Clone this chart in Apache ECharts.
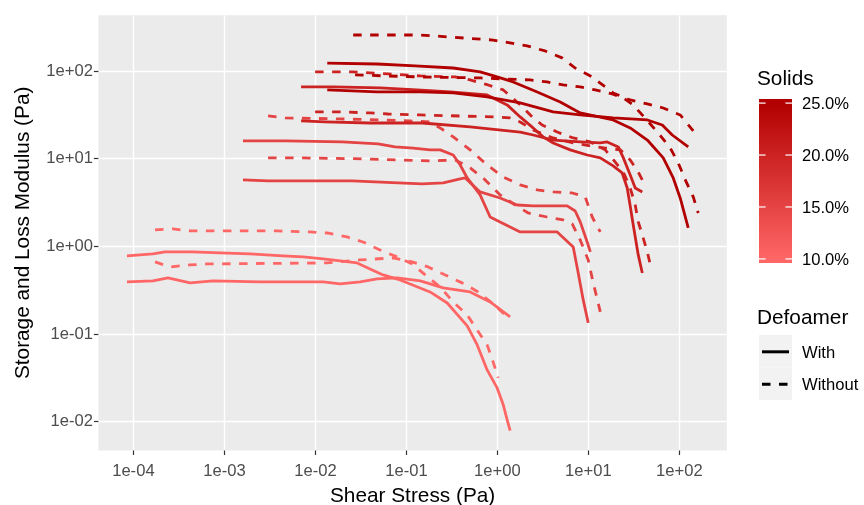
<!DOCTYPE html>
<html>
<head>
<meta charset="utf-8">
<script src="https://cdn.jsdelivr.net/npm/echarts@6/dist/echarts.min.js"></script>
<style>
  html, body { margin: 0; padding: 0; background: #ffffff; }
  #chart { width: 864px; height: 505px; }
</style>
</head>
<body>
<div id="chart"></div>
<script>
// Amplitude sweeps: storage (G') and loss (G'') modulus against shear stress,
// for four solids contents, with and without defoamer.

// ---- 10 % solids ----
const s10WithStorageX = [8.5e-5, 1.64e-4, 2.23e-4, 4.42e-4, 8.97e-4, 1.91e-3, 4.41e-3, 7.33e-3, 1.22e-2, 2.87e-2, 5.54e-2, 8.53e-2, 0.182, 0.281, 0.466, 0.600, 0.771, 0.993, 1.16, 1.28, 1.38];
const s10WithStorageY = [0.778, 0.819, 0.863, 0.863, 0.841, 0.819, 0.778, 0.757, 0.719, 0.647, 0.472, 0.414, 0.302, 0.226, 0.124, 0.0752, 0.039, 0.0243, 0.0156, 0.0105, 0.0079];
const s10WithLossX = [8.5e-5, 1.64e-4, 2.40e-4, 4.20e-4, 7.51e-4, 2.47e-3, 1.22e-2, 1.87e-2, 3.10e-2, 4.76e-2, 7.91e-2, 0.142, 0.254, 0.502, 0.832, 1.38];
const s10WithLossY = [0.393, 0.403, 0.436, 0.383, 0.403, 0.393, 0.393, 0.373, 0.393, 0.425, 0.436, 0.403, 0.336, 0.302, 0.232, 0.157];
const s10WithoutStorageX = [1.73e-4, 2.73e-4, 4.20e-4, 3.79e-3, 8.75e-3, 1.35e-2, 2.23e-2, 3.34e-2, 5.14e-2, 7.91e-2, 0.116, 0.161, 0.235, 0.327, 0.466, 0.600, 0.771, 0.897, 1.02];
const s10WithoutStorageY = [1.54, 1.58, 1.50, 1.50, 1.46, 1.42, 1.28, 1.12, 0.910, 0.757, 0.630, 0.472, 0.344, 0.232, 0.165, 0.111, 0.0752, 0.0481, 0.0316];
const s10WithoutLossX = [1.73e-4, 2.53e-4, 4.20e-4, 6.45e-4, 1.35e-2, 3.10e-2, 7.14e-2, 0.116, 0.173, 0.267, 0.410, 0.615, 0.875, 1.28];
const s10WithoutLossY = [0.664, 0.582, 0.614, 0.630, 0.647, 0.700, 0.738, 0.664, 0.582, 0.472, 0.383, 0.302, 0.226, 0.157];

// ---- 15 % solids ----
const s15WithStorageX = [1.60e-3, 4.65e-3, 1.97e-2, 4.89e-2, 7.52e-2, 0.119, 0.182, 0.235, 0.327, 0.390, 0.466, 0.646, 0.832, 1.07, 1.78, 4.54, 6.81, 7.73, 8.77, 9.95];
const s15WithStorageY = [15.9, 15.9, 15.5, 14.7, 13.6, 13.2, 12.6, 12.6, 11.0, 8.47, 6.02, 3.86, 2.16, 1.90, 1.46, 1.46, 0.984, 0.497, 0.245, 0.134];
const s15WithLossX = [1.60e-3, 3.02e-3, 2.53e-2, 8.11e-2, 0.149, 0.254, 0.390, 0.443, 0.646, 1.07, 1.65, 2.47, 5.84, 7.16, 8.13, 9.70, 10.5];
const s15WithLossY = [5.72, 5.57, 5.57, 5.28, 5.15, 5.28, 5.87, 6.02, 4.17, 3.56, 2.96, 2.89, 2.89, 2.53, 1.90, 1.12, 0.863];
const s15WithoutStorageX = [3.02e-3, 4.65e-3, 1.87e-2, 5.14e-2, 0.110, 0.182, 0.235, 0.327, 0.502, 0.771, 1.16, 1.78, 2.74, 4.10, 6.64, 9.23, 11.0, 13.5];
const s15WithoutStorageY = [30.7, 29.1, 28.4, 27.6, 26.9, 26.2, 22.4, 17.7, 12.6, 8.47, 6.18, 5.01, 4.40, 4.17, 4.06, 3.66, 2.16, 1.46];
const s15WithoutLossX = [3.02e-3, 6.79e-3, 2.41e-2, 8.53e-2, 0.182, 0.344, 0.502, 0.733, 1.07, 1.57, 2.18, 3.52, 5.28, 6.64, 8.13, 9.95, 11.3, 12.8, 13.5];
const s15WithoutLossY = [10.2, 10.2, 10.0, 9.67, 9.42, 9.67, 7.83, 5.72, 3.86, 2.96, 2.40, 2.16, 2.00, 1.80, 1.18, 0.700, 0.383, 0.226, 0.179];

// ---- 20 % solids ----
const s20WithStorageX = [6.96e-3, 1.57e-2, 5.14e-2, 0.131, 0.303, 0.771, 0.897, 1.28, 1.78, 2.47, 3.18, 4.10, 6.31, 9.70, 13.5, 18.7, 23.5, 26.7, 28.8, 31.1, 35.3, 39.1];
const s20WithStorageY = [65.7, 65.7, 64.0, 60.7, 57.6, 53.3, 49.2, 41.0, 29.9, 22.4, 17.7, 15.1, 12.6, 11.0, 10.2, 8.26, 6.87, 4.63, 2.89, 1.75, 0.798, 0.497];
const s20WithLossX = [6.96e-3, 1.28e-2, 3.99e-2, 0.149, 0.502, 1.78, 2.47, 4.10, 8.13, 13.5, 16.1, 21.3, 24.2, 28.8, 32.7, 39.1];
const s20WithLossY = [26.9, 26.2, 25.5, 25.5, 23.0, 20.1, 18.6, 16.3, 15.5, 15.1, 15.5, 13.6, 10.2, 6.52, 4.63, 4.17];
const s20WithoutStorageX = [9.93e-3, 2.53e-2, 6.29e-2, 0.142, 0.344, 0.502, 0.791, 1.16, 1.78, 2.41, 3.10, 4.54, 6.81, 10.5, 15.3, 24.2, 28.8, 32.7, 35.3, 39.1, 44.4, 47.9];
const s20WithoutStorageY = [97.5, 97.5, 92.4, 87.7, 85.4, 78.9, 69.2, 60.7, 41.0, 29.9, 24.2, 20.1, 17.2, 15.5, 12.6, 7.04, 4.63, 2.96, 1.90, 1.35, 0.863, 0.614];
const s20WithoutLossX = [9.93e-3, 1.87e-2, 3.99e-2, 6.29e-2, 0.142, 0.897, 1.38, 1.78, 2.47, 4.10, 6.81, 10.5, 15.3, 22.4, 28.8, 35.3, 41.7];
const s20WithoutLossY = [34.1, 34.1, 33.2, 32.3, 31.5, 29.9, 29.1, 26.2, 21.2, 17.2, 15.1, 14.0, 13.2, 12.6, 9.67, 7.04, 5.01];

// ---- 25 % solids ----
const s25WithStorageX = [1.35e-2, 4.76e-2, 0.125, 0.327, 0.646, 0.993, 1.49, 2.74, 4.90, 8.13, 18.7, 28.8, 44.4, 66.4, 85.5, 102, 125];
const s25WithStorageY = [123, 120, 114, 108, 97.5, 85.4, 74.9, 57.6, 44.3, 33.2, 27.6, 22.4, 16.3, 10.2, 6.02, 3.56, 1.62];
const s25WithLossX = [1.35e-2, 4.76e-2, 0.142, 0.327, 0.771, 1.78, 4.10, 8.13, 18.7, 44.4, 64.8, 83.4, 125];
const s25WithLossY = [60.7, 57.6, 57.6, 56.1, 50.5, 43.2, 34.1, 31.5, 29.1, 27.6, 24.2, 18.6, 13.6];
const s25WithoutStorageX = [2.60e-2, 0.142, 0.897, 2.12, 3.34, 5.14, 7.14, 11.0, 15.3, 18.7, 28.8, 44.4, 66.4, 102, 142];
const s25WithoutStorageY = [257, 257, 225, 193, 169, 141, 108, 85.4, 65.7, 56.1, 46.7, 42.1, 37.8, 31.5, 20.7];
const s25WithoutLossX = [2.73e-2, 0.142, 0.646, 2.29, 3.52, 5.28, 8.13, 11.9, 18.3, 24.2, 31.1, 58.6, 79.3, 97.1, 116, 142, 161];
const s25WithoutLossY = [90.0, 85.4, 83.2, 78.9, 74.9, 69.2, 65.7, 60.7, 54.7, 49.2, 41.0, 19.6, 13.2, 8.93, 5.72, 3.66, 2.40];

// Axis breaks and colour-bar breaks
const stressBreaks = [1e-4, 1e-3, 1e-2, 1e-1, 1, 10, 100];
const modulusBreaks = [1e-2, 1e-1, 1, 10, 100];
const solidsBreaks = [10, 15, 20, 25];
const solidsLimits = [10, 25];
const defoamerLevels = ['With', 'Without'];

const curves = [
  { solids: 10, defoamer: 'With',    x: s10WithStorageX,    y: s10WithStorageY },
  { solids: 10, defoamer: 'With',    x: s10WithLossX,       y: s10WithLossY },
  { solids: 10, defoamer: 'Without', x: s10WithoutStorageX, y: s10WithoutStorageY },
  { solids: 10, defoamer: 'Without', x: s10WithoutLossX,    y: s10WithoutLossY },
  { solids: 15, defoamer: 'With',    x: s15WithStorageX,    y: s15WithStorageY },
  { solids: 15, defoamer: 'With',    x: s15WithLossX,       y: s15WithLossY },
  { solids: 15, defoamer: 'Without', x: s15WithoutStorageX, y: s15WithoutStorageY },
  { solids: 15, defoamer: 'Without', x: s15WithoutLossX,    y: s15WithoutLossY },
  { solids: 20, defoamer: 'With',    x: s20WithStorageX,    y: s20WithStorageY },
  { solids: 20, defoamer: 'With',    x: s20WithLossX,       y: s20WithLossY },
  { solids: 20, defoamer: 'Without', x: s20WithoutStorageX, y: s20WithoutStorageY },
  { solids: 20, defoamer: 'Without', x: s20WithoutLossX,    y: s20WithoutLossY },
  { solids: 25, defoamer: 'With',    x: s25WithStorageX,    y: s25WithStorageY },
  { solids: 25, defoamer: 'With',    x: s25WithLossX,       y: s25WithLossY },
  { solids: 25, defoamer: 'Without', x: s25WithoutStorageX, y: s25WithoutStorageY },
  { solids: 25, defoamer: 'Without', x: s25WithoutLossX,    y: s25WithoutLossY }
];

// Colour scale for solids content (low -> high)
const lowColor = [255, 102, 102];
const highColor = [178, 0, 0];
function solidsColor(v) {
  const t = (v - solidsLimits[0]) / (solidsLimits[1] - solidsLimits[0]);
  const c = lowColor.map((l, i) => Math.round(l + (highColor[i] - l) * t));
  return 'rgb(' + c.join(',') + ')';
}

const DASH = [8.5, 8.5];
const LINE_W = 2.8;

// Log-axis extent with 5 % padding of the (log) data range on each side
function paddedLogExtent(arrays) {
  let lo = Infinity, hi = -Infinity;
  arrays.forEach(a => a.forEach(v => { const l = Math.log10(v); if (l < lo) lo = l; if (l > hi) hi = l; }));
  const pad = (hi - lo) * 0.05;
  return [Math.pow(10, lo - pad), Math.pow(10, hi + pad)];
}
const xExtent = paddedLogExtent(curves.map(c => c.x));
const yExtent = paddedLogExtent(curves.map(c => c.y));

function sciLabel(v) {
  const e = Math.round(Math.log10(v));
  const s = e < 0 ? '-' : '+';
  return '1e' + s + String(Math.abs(e)).padStart(2, '0');
}

const FONT = '"Liberation Sans", Arial, sans-serif';
const TICK_FS = 16.6;
const TITLE_FS = 20.8;
const GRID = { left: 98.4, right: 137.2, top: 15.2, bottom: 54.5 };

const series = curves.map(c => ({
  type: 'line',
  data: c.x.map((v, i) => [v, c.y[i]]),
  symbol: 'none',
  showSymbol: false,
  silent: true,
  animation: false,
  lineStyle: {
    color: solidsColor(c.solids),
    width: LINE_W,
    type: c.defoamer === 'With' ? 'solid' : DASH,
    cap: 'butt',
    join: 'round'
  },
  z: 2
}));

// Legend: colour bar for solids and line-type keys for defoamer
const barLeft = 759, barTop = 99, barW = 33, barH = 164;
const halfBin = barH / 20 / 2;
function barY(v) {
  const t = (v - solidsLimits[0]) / (solidsLimits[1] - solidsLimits[0]);
  return barTop + barH - halfBin - t * (barH - 2 * halfBin);
}
const legendGraphics = [
  { type: 'text', x: 757, y: 79, style: { text: 'Solids', font: TITLE_FS + 'px ' + FONT, fill: '#000', textVerticalAlign: 'middle' } },
  {
    type: 'rect', shape: { x: barLeft, y: barTop, width: barW, height: barH },
    style: {
      fill: new echarts.graphic.LinearGradient(0, 0, 0, 1, [
        { offset: halfBin / barH, color: solidsColor(solidsLimits[1]) },
        { offset: 1 - halfBin / barH, color: solidsColor(solidsLimits[0]) }
      ])
    }
  }
];
solidsBreaks.forEach(v => {
  const y = barY(v);
  legendGraphics.push(
    { type: 'line', shape: { x1: barLeft, y1: y, x2: barLeft + 6.6, y2: y }, style: { stroke: '#fff', lineWidth: 1.2 } },
    { type: 'line', shape: { x1: barLeft + barW - 6.6, y1: y, x2: barLeft + barW, y2: y }, style: { stroke: '#fff', lineWidth: 1.2 } },
    { type: 'text', x: 802, y: y + 1.5, style: { text: v.toFixed(1) + '%', font: TICK_FS + 'px ' + FONT, fill: '#000', textVerticalAlign: 'middle' } }
  );
});
legendGraphics.push(
  { type: 'text', x: 757, y: 318, style: { text: 'Defoamer', font: TITLE_FS + 'px ' + FONT, fill: '#000', textVerticalAlign: 'middle' } }
);
defoamerLevels.forEach((lvl, i) => {
  const top = 335 + i * 32.5;
  const cy = top + 16.8;
  legendGraphics.push(
    { type: 'rect', shape: { x: barLeft, y: top, width: barW, height: 32.5 }, style: { fill: '#F2F2F2' } },
    { type: 'line', shape: { x1: barLeft + 3, y1: cy, x2: barLeft + barW - 3, y2: cy },
      style: { stroke: '#000', lineWidth: 3, lineDash: lvl === 'With' ? null : DASH, lineCap: 'butt' } },
    { type: 'text', x: 802, y: cy + 1.5, style: { text: lvl, font: TICK_FS + 'px ' + FONT, fill: '#000', textVerticalAlign: 'middle' } }
  );
});

const chart = echarts.init(document.getElementById('chart'), null, { renderer: 'canvas' });
chart.setOption({
  animation: false,
  backgroundColor: '#ffffff',
  grid: Object.assign({
    show: true, backgroundColor: '#EBEBEB', borderWidth: 0,
    containLabel: false, outerBoundsMode: 'none'
  }, GRID),
  xAxis: {
    type: 'log',
    logBase: 10,
    min: xExtent[0],
    max: xExtent[1],
    name: 'Shear Stress (Pa)',
    nameLocation: 'middle',
    nameGap: 35,
    nameTextStyle: { color: '#000', fontSize: TITLE_FS, fontFamily: FONT },
    axisLine: { show: false },
    axisTick: { show: true, length: 4.5, lineStyle: { color: '#333333', width: 1.2 }, customValues: stressBreaks },
    axisLabel: { color: '#4D4D4D', fontSize: TICK_FS, fontFamily: FONT, margin: 12, customValues: stressBreaks, formatter: sciLabel },
    splitLine: { show: true, lineStyle: { color: '#ffffff', width: 1.4 } },
    minorSplitLine: { show: false }
  },
  yAxis: {
    type: 'log',
    logBase: 10,
    min: yExtent[0],
    max: yExtent[1],
    name: 'Storage and Loss Modulus (Pa)',
    nameLocation: 'middle',
    nameRotate: 90,
    nameGap: 65,
    nameTextStyle: { color: '#000', fontSize: TITLE_FS, fontFamily: FONT },
    axisLine: { show: false },
    axisTick: { show: true, length: 4.5, lineStyle: { color: '#333333', width: 1.2 }, customValues: modulusBreaks },
    axisLabel: { color: '#4D4D4D', fontSize: TICK_FS, fontFamily: FONT, margin: 5.5, customValues: modulusBreaks, formatter: sciLabel },
    splitLine: { show: true, lineStyle: { color: '#ffffff', width: 1.4 } }
  },
  series: series,
  graphic: legendGraphics
});
</script>
</body>
</html>
